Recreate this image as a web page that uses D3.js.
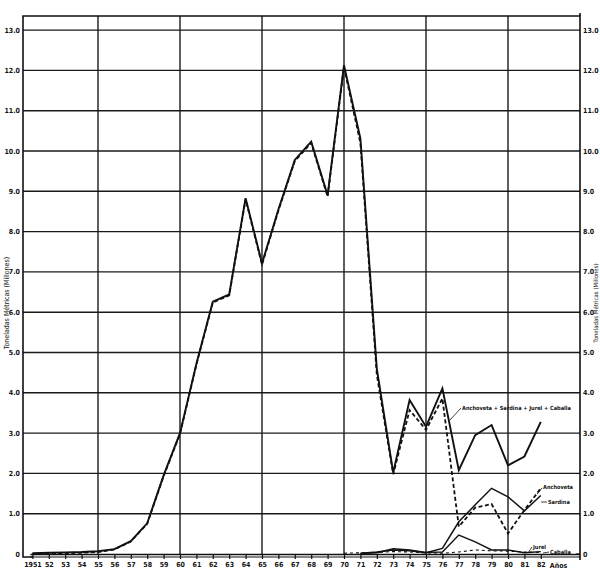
<!DOCTYPE html>
<html>
<head>
<meta charset="utf-8">
<script src="https://cdn.jsdelivr.net/npm/d3@7"></script>
<style>
  body { margin: 0; background: #fff; }
  text { font-family: "Liberation Sans Narrow", "DejaVu Sans Condensed", sans-serif; font-weight: bold; fill: #111; }
</style>
</head>
<body>
<div id="chart"></div>
<script>
//data (millones de toneladas)
const years = d3.range(1951, 1983);
const total = [0.02, 0.03, 0.04, 0.05, 0.07, 0.12, 0.32, 0.76, 1.95, 3.0, 4.72, 6.26, 6.44, 8.83, 7.21, 8.55,
      9.78, 10.23, 8.9, 12.13, 10.31, 4.6, 2.02, 3.82, 3.16, 4.11, 2.08, 2.95, 3.2, 2.2, 2.42, 3.28];
const anchoveta = [0.0, 0.01, 0.02, 0.03, 0.05, 0.11, 0.31, 0.75, 1.93, 2.98, 4.7, 6.24, 6.42, 8.8, 7.18, 8.52,
      9.75, 10.2, 8.87, 12.08, 10.2, 4.45, 1.98, 3.57, 3.08, 3.86, 0.68, 1.15, 1.24, 0.51, 1.09, 1.63];
const sardinaYears = d3.range(1971, 1983);
const sardina = [0.02, 0.05, 0.1, 0.08, 0.03, 0.14, 0.8, 1.22, 1.63, 1.42, 1.07, 1.45];
const jurelYears = d3.range(1971, 1983);
const jurel = [0.01, 0.03, 0.13, 0.1, 0.04, 0.05, 0.47, 0.3, 0.1, 0.1, 0.03, 0.06];
const caballaYears = d3.range(1970, 1983);
const caballa = [0.02, 0.03, 0.04, 0.06, 0.05, 0.03, 0.02, 0.05, 0.1, 0.08, 0.07, 0.05, 0.04];
const yTicks = d3.range(1, 14);
const xGrid = [1955, 1960, 1965, 1970, 1975, 1980];

const w = 600;
const h = 579;
const plotLeft = 23, plotRight = 580, plotTop = 16, base = 554;

const x = d3.scaleLinear().domain([1951, 1982]).range([32.4, 540.8]);
const y = d3.scaleLinear().domain([0, 13]).range([base, base - 13 * 40.3]);

const svg = d3.select("#chart")
      .append("svg")
      .attr("width", w)
      .attr("height", h)
      .style("background-color", "#fff");

//grid
svg.selectAll(".hgrid")
      .data(yTicks)
      .enter()
      .append("line")
      .attr("x1", plotLeft)
      .attr("x2", plotRight)
      .attr("y1", (d) => y(d))
      .attr("y2", (d) => y(d))
      .style("stroke", "#1a1a1a")
      .style("stroke-width", 1.4);

svg.selectAll(".vgrid")
      .data(xGrid)
      .enter()
      .append("line")
      .attr("x1", (d) => x(d))
      .attr("x2", (d) => x(d))
      .attr("y1", plotTop)
      .attr("y2", base)
      .style("stroke", "#1a1a1a")
      .style("stroke-width", 1.4);

//frame
svg.append("path")
      .attr("d", `M${plotLeft + 10},${base + 3} H${plotLeft} V${plotTop} H${plotRight} V${base + 6}`)
      .style("fill", "none")
      .style("stroke", "#111")
      .style("stroke-width", 1.6);
svg.append("line")
      .attr("x1", plotRight).attr("x2", plotRight)
      .attr("y1", plotTop - 3).attr("y2", plotTop)
      .style("stroke", "#111").style("stroke-width", 1.6);

//y labels both sides
svg.selectAll(".ylabL")
      .data([0].concat(yTicks))
      .enter()
      .append("text")
      .attr("x", 20)
      .attr("y", (d) => y(d) + 2.5)
      .attr("text-anchor", "end")
      .style("font-size", "7px")
      .text((d) => d === 0 ? "0" : d.toFixed(1));

svg.selectAll(".ylabR")
      .data([0].concat(yTicks))
      .enter()
      .append("text")
      .attr("x", 583)
      .attr("y", (d) => y(d) + 2.5)
      .style("font-size", "7px")
      .text((d) => d === 0 ? "0" : d.toFixed(1));
svg.append("line")
      .attr("x1", plotRight - 4).attr("x2", plotRight)
      .attr("y1", base).attr("y2", base)
      .style("stroke", "#111").style("stroke-width", 1.2);

//axis titles
svg.append("text")
      .attr("transform", "translate(9,303) rotate(-90)")
      .attr("text-anchor", "middle")
      .style("font-size", "7px")
      .style("font-weight", "normal")
      .text("Toneladas  Métricas (Millones)");
svg.append("text")
      .attr("transform", "translate(597.5,303) rotate(-90)")
      .attr("text-anchor", "middle")
      .style("font-size", "6px")
      .style("font-weight", "normal")
      .text("Toneladas  Métricas (Millones)");

//bottom axis
const xAxis = d3.axisBottom(x)
      .tickValues(years)
      .tickSize(5)
      .tickPadding(3)
      .tickFormat((d) => d === 1951 ? "1951" : String(d).slice(2));
const gx = svg.append("g")
      .attr("transform", `translate(0,${base})`)
      .call(xAxis);
gx.select(".domain").remove();
gx.selectAll("line").style("stroke", "#111").style("stroke-width", 1.2);
gx.selectAll("text")
      .style("font-size", "7px")
      .style("font-family", "\"Liberation Sans Narrow\", \"DejaVu Sans Condensed\", sans-serif")
      .style("font-weight", "bold")
      .style("fill", "#111");
svg.append("line")
      .attr("x1", x(1951) - 2).attr("x2", plotRight)
      .attr("y1", base + 0.5).attr("y2", base + 0.5)
      .style("stroke", "#111").style("stroke-width", 1.6);
svg.append("line")
      .attr("x1", x(1951) - 2).attr("x2", plotRight)
      .attr("y1", base + 3).attr("y2", base + 3)
      .style("stroke", "#111").style("stroke-width", 1);
svg.append("text")
      .attr("x", x(1982) + 9)
      .attr("y", base + 14)
      .style("font-size", "7px")
      .text("Años");

//lines
const line = d3.line()
      .x((d) => x(d[0]))
      .y((d) => y(d[1]));

const series = [
      { yrs: years, vals: total, width: 1.9, dash: null },
      { yrs: years, vals: anchoveta, width: 1.8, dash: "4,2.5" },
      { yrs: sardinaYears, vals: sardina, width: 1.5, dash: null },
      { yrs: jurelYears, vals: jurel, width: 1.4, dash: null },
      { yrs: caballaYears, vals: caballa, width: 1.1, dash: "3,3" }
];

svg.selectAll(".serie")
      .data(series)
      .enter()
      .append("path")
      .attr("d", (d) => line(d.yrs.map((yr, i) => [yr, d.vals[i]])))
      .style("fill", "none")
      .style("stroke", "#111")
      .style("stroke-width", (d) => d.width)
      .style("stroke-dasharray", (d) => d.dash)
      .style("stroke-linejoin", "miter");

//series labels with little arrows
const labels = [
      { t: "Anchoveta + Sardina + Jurel + Caballa", lx: 462, ly: 410, ax: 461, ay: 408, bx: 450, by: 420 },
      { t: "Anchoveta", lx: 543, ly: 489, ax: 542, ay: 488, bx: 537, by: 494 },
      { t: "Sardina", lx: 548, ly: 504, ax: 547, ay: 502, bx: 541, by: 502 },
      { t: "Jurel", lx: 533, ly: 549, ax: 532, ay: 547, bx: 528, by: 553 },
      { t: "Caballa", lx: 550, ly: 554, ax: 549, ay: 552, bx: 543, by: 553 }
];

svg.selectAll(".lblArrow")
      .data(labels)
      .enter()
      .append("line")
      .attr("x1", (d) => d.ax)
      .attr("y1", (d) => d.ay)
      .attr("x2", (d) => d.bx)
      .attr("y2", (d) => d.by)
      .style("stroke", "#111")
      .style("stroke-width", 0.8);

svg.selectAll(".lbl")
      .data(labels)
      .enter()
      .append("text")
      .attr("x", (d) => d.lx)
      .attr("y", (d) => d.ly)
      .style("font-size", "5.6px")
      .text((d) => d.t);
</script>
</body>
</html>
